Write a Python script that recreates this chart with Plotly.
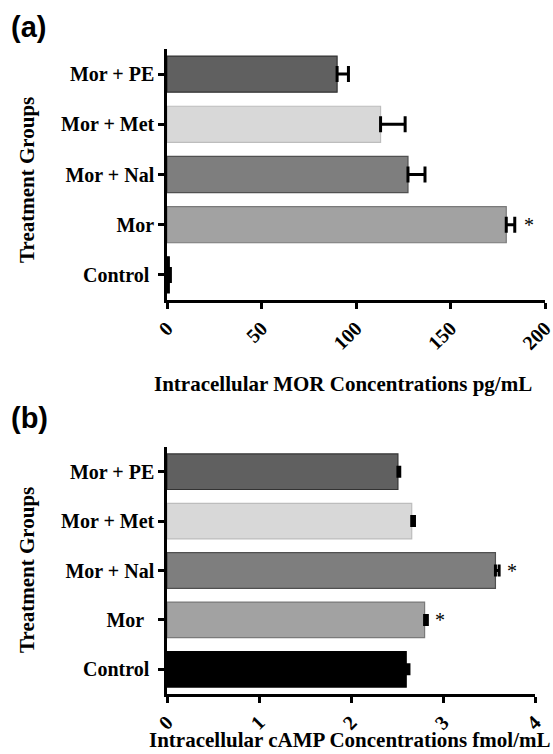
import plotly.graph_objects as go

W, H = 553, 754

groups_a = ["Control", "Mor", "Mor + Nal", "Mor + Met", "Mor + PE"]
labels_a = ["Control\u00a0", "Mor", "Mor + Nal", "Mor + Met", "Mor + PE"]
mor_values = [1.2, 179.5, 127.5, 113.0, 90.0]
mor_errors = [0.6, 4.5, 9.0, 13.0, 6.0]
sig_a = [False, True, False, False, False]

groups_b = ["Control", "Mor", "Mor + Nal", "Mor + Met", "Mor + PE"]
labels_b = ["Control\u00a0", "Mor\u00a0\u00a0", "Mor + Nal", "Mor + Met", "Mor + PE"]
camp_values = [2.60, 2.80, 3.57, 2.66, 2.51]
camp_errors = [0.03, 0.03, 0.04, 0.03, 0.02]
sig_b = [False, True, True, False, False]

ticks_a = [0, 50, 100, 150, 200]
ticks_b = [0, 1, 2, 3, 4]

fill_a = ["#000000", "#a2a2a2", "#7e7e7e", "#d8d8d8", "#606060"]
edge_a = ["#000000", "#7a7a7a", "#505050", "#bdbdbd", "#333333"]
fill_b = ["#000000", "#a2a2a2", "#7e7e7e", "#d8d8d8", "#606060"]
edge_b = ["#000000", "#7a7a7a", "#505050", "#bdbdbd", "#333333"]

SERIF = "Liberation Serif"

fig = go.Figure()

fig.add_trace(go.Bar(
    x=mor_values, y=groups_a, orientation="h", width=0.72,
    marker=dict(color=fill_a, line=dict(color=edge_a, width=1.2)),
    error_x=dict(type="data", symmetric=False, array=mor_errors,
                 arrayminus=[0] * len(mor_errors), color="black",
                 thickness=3, width=8),
    xaxis="x", yaxis="y", showlegend=False))

fig.add_trace(go.Bar(
    x=camp_values, y=groups_b, orientation="h", width=0.72,
    marker=dict(color=fill_b, line=dict(color=edge_b, width=1.2)),
    error_x=dict(type="data", symmetric=False, array=camp_errors,
                 arrayminus=[0] * len(camp_errors), color="black",
                 thickness=3, width=6),
    xaxis="x2", yaxis="y2", showlegend=False))

def px_x(p):
    return p / W

def px_y(p):
    return 1 - p / H

axis_common = dict(showline=True, linecolor="black", linewidth=2.5,
                   ticks="outside", ticklen=6, tickwidth=2.5, tickcolor="black",
                   showgrid=False, zeroline=False, automargin=False,
                   ticklabeloverflow="allow",
                   tickfont=dict(family=SERIF, size=20, color="black", weight="bold"))

fig.update_layout(
    template="none",
    width=W, height=H,
    margin=dict(l=0, r=0, t=0, b=0, pad=0),
    paper_bgcolor="white", plot_bgcolor="white",
    font=dict(family=SERIF, color="black"),
    xaxis=dict(domain=[px_x(167), px_x(545)], range=[0, 200],
               tickvals=ticks_a, ticktext=[str(t) for t in ticks_a],
               tickangle=-45, anchor="y", **axis_common),
    yaxis=dict(domain=[px_y(300), px_y(49)], range=[-0.5, 4.5],
               categoryorder="array", categoryarray=groups_a,
               tickvals=groups_a, ticktext=labels_a,
               anchor="x", **axis_common),
    xaxis2=dict(domain=[px_x(167), px_x(535)], range=[0, 4],
                tickvals=ticks_b, ticktext=[str(t) for t in ticks_b],
                tickangle=-45, anchor="y2", **axis_common),
    yaxis2=dict(domain=[px_y(694), px_y(447)], range=[-0.5, 4.5],
                categoryorder="array", categoryarray=groups_b,
                tickvals=groups_b, ticktext=labels_b,
                anchor="x2", **axis_common),
)

ann = []
title_font = dict(family=SERIF, size=21, color="black", weight="bold")
ann.append(dict(text="Treatment Groups", textangle=-90, xref="paper", yref="paper",
                x=px_x(27), y=px_y(180), xanchor="center", yanchor="middle",
                showarrow=False, font=title_font))
ann.append(dict(text="Treatment Groups", textangle=-90, xref="paper", yref="paper",
                x=px_x(27), y=px_y(570), xanchor="center", yanchor="middle",
                showarrow=False, font=title_font))
ann.append(dict(text="Intracellular MOR Concentrations pg/mL", xref="paper", yref="paper",
                x=px_x(343), y=px_y(384), xanchor="center", yanchor="middle",
                showarrow=False, font=title_font))
ann.append(dict(text="Intracellular cAMP Concentrations fmol/mL", xref="paper", yref="paper",
                x=px_x(349), y=0, xanchor="center", yanchor="bottom",
                showarrow=False, font=title_font))
panel_font = dict(family="Liberation Sans", size=29, color="black", weight="bold")
ann.append(dict(text="(a)", xref="paper", yref="paper", x=px_x(9), y=px_y(27),
                xanchor="left", yanchor="middle", showarrow=False, font=panel_font))
ann.append(dict(text="(b)", xref="paper", yref="paper", x=px_x(9), y=px_y(418),
                xanchor="left", yanchor="middle", showarrow=False, font=panel_font))

star_font = dict(family=SERIF, size=20, color="black")
for g, v, e, s in zip(groups_a, mor_values, mor_errors, sig_a):
    if s:
        ann.append(dict(text="*", xref="x", yref="y", x=v + e, y=g, xanchor="left",
                        yanchor="middle", xshift=7, yshift=0, showarrow=False, font=star_font))
for g, v, e, s in zip(groups_b, camp_values, camp_errors, sig_b):
    if s:
        ann.append(dict(text="*", xref="x2", yref="y2", x=v + e, y=g, xanchor="left",
                        yanchor="middle", xshift=6, yshift=0, showarrow=False, font=star_font))

fig.update_layout(annotations=ann)

fig.write_html("out.html")
